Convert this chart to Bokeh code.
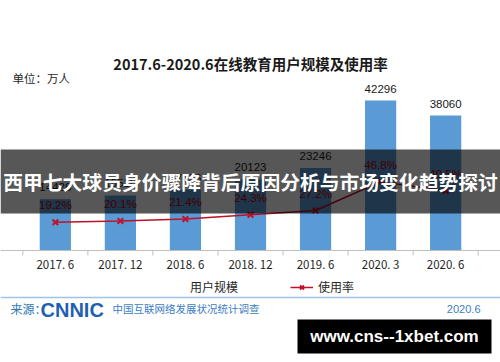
from bokeh.plotting import figure
from bokeh.models import (FactorRange, Range1d, Label, BoxAnnotation, Span,
                          Legend, LegendItem, ColumnDataSource)
from bokeh.transform import dodge
from bokeh.core.properties import value
from bokeh.embed import file_html
from bokeh.resources import INLINE

# ---------------- data ----------------
periods = ["2017. 6", "2017. 12", "2018. 6", "2018. 12", "2019. 6", "2020. 3", "2020. 6"]
users = [14426, 15518, 17186, 20123, 23246, 42296, 38060]          # 用户规模（万人）
usage_rate = [19.2, 20.1, 21.4, 24.3, 27.2, 46.8, 40.5]            # 使用率（%）

title_text = "2017.6-2020.6在线教育用户规模及使用率"
unit_text = "单位：万人"
banner_text = "西甲七大球员身价骤降背后原因分析与市场变化趋势探讨"
legend_labels = ["用户规模", "使用率"]
source_prefix = "来源："
source_logo = "CNNIC"
source_name = "中国互联网络发展状况统计调查"
source_date = "2020.6"
site_text = "www.cns--1xbet.com"

# ---------------- layout constants ----------------
W, H = 500, 362
BASE_Y = 250                # page y of the zero line
BASE_FROM_BOTTOM = H - BASE_Y
USER_PX = 150 / 42296       # px per 万人
PCT_PX = 1.47               # px per percent
PAD = 0.343                 # category padding (in category widths)
CAT_PX = W / (len(periods) + 2 * PAD)

def px_x(img_x):
    """page-pixel x -> synthetic categorical coordinate"""
    return -PAD + img_x / CAT_PX

BAR_BLUE = "#5B9BD5"
LINE_RED = "#C0102A"
CJK = "Noto Sans CJK SC"

p = figure(width=W, height=H,
           x_range=FactorRange(factors=periods, range_padding=PAD,
                               range_padding_units="absolute"),
           y_range=Range1d(-BASE_FROM_BOTTOM / USER_PX, BASE_Y / USER_PX),
           output_backend="svg", toolbar_location=None, tools="",
           min_border=0, background_fill_color="white",
           border_fill_color="white")
p.extra_y_ranges = {"pct": Range1d(-BASE_FROM_BOTTOM / PCT_PX, BASE_Y / PCT_PX),
                    "py": Range1d(H, 0)}
p.outline_line_color = None
p.grid.visible = False
p.yaxis.visible = False

ax = p.xaxis[0]
ax.fixed_location = 0
ax.axis_line_color = "#BFBFBF"
ax.axis_line_width = 1
ax.major_tick_line_color = None
ax.minor_tick_line_color = None
ax.major_tick_in = 0
ax.major_tick_out = 0
ax.major_label_standoff = 5
ax.major_label_text_font = CJK
ax.major_label_text_font_size = "11.5px"
ax.major_label_text_color = "#262626"

src = ColumnDataSource(dict(period=periods, users=users, rate=usage_rate,
                            ulab=[str(v) for v in users],
                            rlab=[f"{v}%" for v in usage_rate]))
last = ColumnDataSource(dict(period=periods[-1:]))

# bars
p.vbar(x="period", top="users", width=0.48, source=src,
       fill_color=BAR_BLUE, line_color=None)
p.text(x="period", y="users", text="ulab", source=src, y_offset=-12,
       text_align="center", text_baseline="middle",
       text_font=value("Liberation Sans"), text_font_size="11.5px",
       text_color="#1a1a1a")

# category boundary ticks
for s, off in ((src, -0.5), (last, 0.5)):
    p.segment(x0=dodge("period", off, range=p.x_range), y0=BASE_Y,
              x1=dodge("period", off, range=p.x_range), y1=BASE_Y + 5,
              y_range_name="py", source=s, line_color="#BFBFBF", line_width=1)

# usage-rate line
line_r = p.line(x="period", y="rate", source=src, y_range_name="pct",
                line_color=LINE_RED, line_width=1.5)
mark_r = p.scatter(x="period", y="rate", source=src, y_range_name="pct",
                   marker="x", size=8, line_color=LINE_RED, line_width=2)
p.text(x="period", y="rate", text="rlab", source=src, y_range_name="pct",
       y_offset=-17, text_align="center", text_baseline="middle",
       text_font=value("Liberation Sans"), text_font_size="11.5px",
       text_color="#C00000")

# legend
blue_key = p.line(x=[], y=[], line_color=BAR_BLUE, line_width=5)
legend = Legend(items=[LegendItem(label=legend_labels[0], renderers=[blue_key]),
                       LegendItem(label=legend_labels[1], renderers=[line_r, mark_r])],
                location=(162, H - 286 - 9), orientation="horizontal",
                glyph_width=23, glyph_height=14, label_height=14,
                label_standoff=5, spacing=52, padding=0, margin=0,
                border_line_color=None, background_fill_alpha=0,
                label_text_font=CJK, label_text_font_size="12px",
                label_text_color="#262626")
p.add_layout(legend)

def lab(x, y, text, **kw):
    opts = dict(y_range_name="py", text_baseline="middle")
    opts.update(kw)
    p.add_layout(Label(x=px_x(x), y=y, text=text, **opts))

# title and unit
lab(250, 63, title_text, text_align="center", text_font=CJK,
    text_font_size="14.5px", text_font_style="bold", text_color="#1a1a1a")
lab(12, 77, unit_text, text_align="left", text_font=CJK,
    text_font_size="11.5px", text_color="#262626")

# footer
p.add_layout(Span(location=297, dimension="width", y_range_name="py",
                  line_color="#9DC3E6", line_width=1.5))
lab(10, 308, source_prefix, text_align="left", text_font=CJK,
    text_font_size="12px", text_color="#2E75B6")
lab(40, 309, source_logo, text_align="left", text_font="Liberation Sans",
    text_font_size="20px", text_font_style="bold", text_color="#1F5FAF")
lab(112, 308, source_name, text_align="left", text_font=CJK,
    text_font_size="10.5px", text_color="#3B7DC4")
lab(480, 308, source_date, text_align="right", text_font="Liberation Sans",
    text_font_size="11px", text_color="#3B7DC4")

# dark banner with headline
p.add_layout(BoxAnnotation(top=149, bottom=213, y_range_name="py",
                           fill_color="black", fill_alpha=0.66, line_color=None))
lab(250, 181, banner_text, text_align="center", text_font=CJK,
    text_font_size="19.8px", text_font_style="bold", text_color="white")

# site box
p.add_layout(BoxAnnotation(left=px_x(297), right=px_x(491), top=319, bottom=353,
                           y_range_name="py",
                           fill_color="black", fill_alpha=1, line_color=None))
lab(394, 336, site_text, text_align="center", text_font="Liberation Sans",
    text_font_size="17px", text_font_style="bold", text_color="white")

open("out.html", "w").write(file_html(p, INLINE))
